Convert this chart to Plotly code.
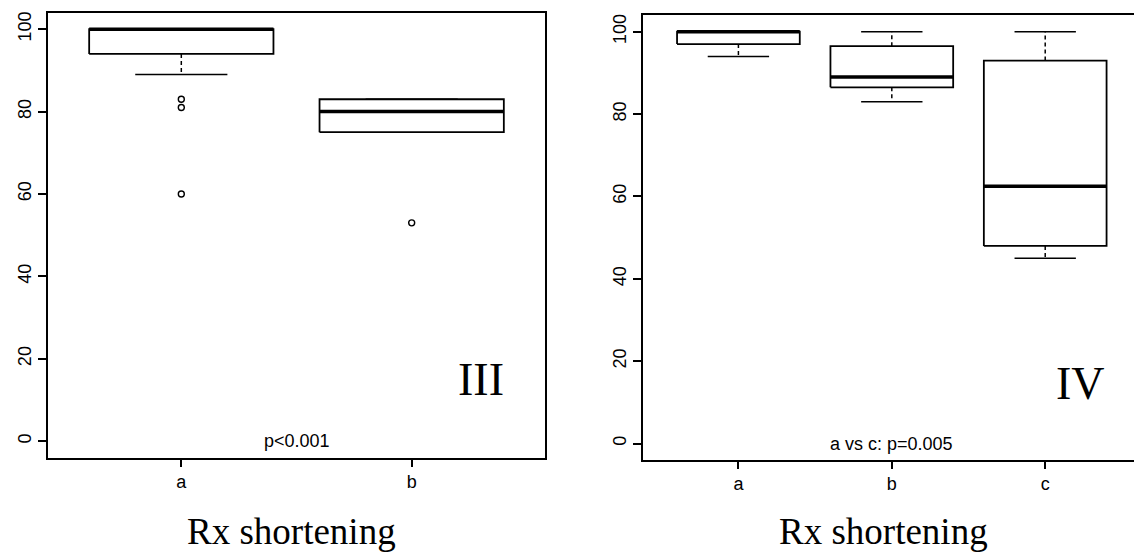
import plotly.graph_objects as go

# ---- data ----
left_groups = ["a", "b"]
left_q1 = [94, 75]
left_median = [100, 80]
left_q3 = [100, 83]
left_lower = [89, 75]
left_upper = [100, 83]
left_outliers = [[83, 81, 60], [53]]

right_groups = ["a", "b", "c"]
right_q1 = [97, 86.5, 48]
right_median = [100, 89, 62.5]
right_q3 = [100, 96.5, 93]
right_lower = [94, 83, 45]
right_upper = [100, 100, 100]
right_outliers = [[], [], []]

y_ticks = [0, 20, 40, 60, 80, 100]
left_note = "p<0.001"
right_note = "a vs c: p=0.005"
left_tag = "III"
right_tag = "IV"
x_title = "Rx shortening"

BOXW = 0.4
CAPW = 0.2
SANS = "Liberation Sans, Arial, Helvetica, sans-serif"
SERIF = "Liberation Serif, Times New Roman, serif"

fig = go.Figure()


def add_boxes(q1, med, q3, lo, hi, outl, xa, ya):
    bx, by, mx, my, wx, wy, cx, cy, ox, oy = [], [], [], [], [], [], [], [], [], []
    for i in range(len(q1)):
        c = i + 1
        l, r = c - BOXW, c + BOXW
        wx += [c, c, None, c, c, None]
        wy += [q3[i], hi[i], None, q1[i], lo[i], None]
        cx += [c - CAPW, c + CAPW, None, c - CAPW, c + CAPW, None]
        cy += [hi[i], hi[i], None, lo[i], lo[i], None]
        bx += [l, r, r, l, l, None]
        by += [q1[i], q1[i], q3[i], q3[i], q1[i], None]
        mx += [l, r, None]
        my += [med[i], med[i], None]
        for v in outl[i]:
            ox.append(c)
            oy.append(v)
    common = dict(xaxis=xa, yaxis=ya, showlegend=False, hoverinfo="skip")
    fig.add_trace(go.Scatter(x=wx, y=wy, mode="lines",
                             line=dict(color="black", width=1.5, dash="4px,3px"), **common))
    fig.add_trace(go.Scatter(x=cx, y=cy, mode="lines",
                             line=dict(color="black", width=1.6), **common))
    fig.add_trace(go.Scatter(x=bx, y=by, mode="lines", fill="toself", fillcolor="white",
                             line=dict(color="black", width=1.8), **common))
    fig.add_trace(go.Scatter(x=mx, y=my, mode="lines",
                             line=dict(color="black", width=3.5), **common))
    if ox:
        fig.add_trace(go.Scatter(x=ox, y=oy, mode="markers",
                                 marker=dict(symbol="circle-open", size=6, color="black",
                                             line=dict(width=1.4, color="black")), **common))


add_boxes(left_q1, left_median, left_q3, left_lower, left_upper, left_outliers, "x", "y")
add_boxes(right_q1, right_median, right_q3, right_lower, right_upper, right_outliers, "x2", "y2")

W, H = 1134, 552

axis_common = dict(showgrid=False, zeroline=False, showline=True, linecolor="black",
                   linewidth=1.7, ticks="outside", tickcolor="black", tickwidth=1.5,
                   tickfont=dict(family=SANS, size=18, color="black"))

fig.update_layout(
    width=W, height=H,
    margin=dict(l=0, r=0, t=0, b=0),
    paper_bgcolor="white", plot_bgcolor="white",
    showlegend=False,
    xaxis=dict(domain=[47.7 / W, 545.3 / W], range=[0.42, 2.58], mirror=True,
               tickvals=list(range(1, len(left_groups) + 1)), ticktext=left_groups,
               ticklen=7, anchor="y", **axis_common),
    yaxis=dict(domain=[1 - 457.7 / H, 1 - 12.7 / H], range=[-4, 104], mirror=True,
               tickvals=y_ticks, tickangle=-90, ticklen=8, anchor="x", **axis_common),
    xaxis2=dict(domain=[643.3 / W, 1.0], range=[0.38, 0.38 + (W - 643.3) / 153.4], mirror=True,
                tickvals=list(range(1, len(right_groups) + 1)), ticktext=right_groups,
                ticklen=7, anchor="y2", **axis_common),
    yaxis2=dict(domain=[1 - 460 / H, 1 - 15.3 / H], range=[-4, 104], mirror=False,
                tickvals=y_ticks, tickangle=-90, ticklen=8, anchor="x2", **axis_common),
)

ann = []
ann.append(dict(x=1.5, y=0, xref="x", yref="y", text=left_note, showarrow=False,
                xanchor="center", yanchor="middle",
                font=dict(family=SANS, size=18, color="black")))
ann.append(dict(x=2, y=0, xref="x2", yref="y2", text=right_note, showarrow=False,
                xanchor="center", yanchor="middle",
                font=dict(family=SANS, size=18, color="black")))
ann.append(dict(x=2.3, y=15, xref="x", yref="y", text=left_tag, showarrow=False,
                xanchor="center", yanchor="middle",
                font=dict(family=SERIF, size=46, color="black")))
ann.append(dict(x=3.23, y=14.6, xref="x2", yref="y2", text=right_tag, showarrow=False,
                xanchor="center", yanchor="middle",
                font=dict(family=SERIF, size=46, color="black")))
ann.append(dict(x=291 / W, y=1 - 531 / H, xref="paper", yref="paper", text=x_title,
                showarrow=False, xanchor="center", yanchor="middle",
                font=dict(family=SERIF, size=37, color="black")))
ann.append(dict(x=883 / W, y=1 - 531 / H, xref="paper", yref="paper", text=x_title,
                showarrow=False, xanchor="center", yanchor="middle",
                font=dict(family=SERIF, size=37, color="black")))
fig.update_layout(annotations=ann)

fig.write_html("out.html", config={"displayModeBar": False},
               post_script="document.body.style.margin='0';document.body.style.overflow='hidden';")
